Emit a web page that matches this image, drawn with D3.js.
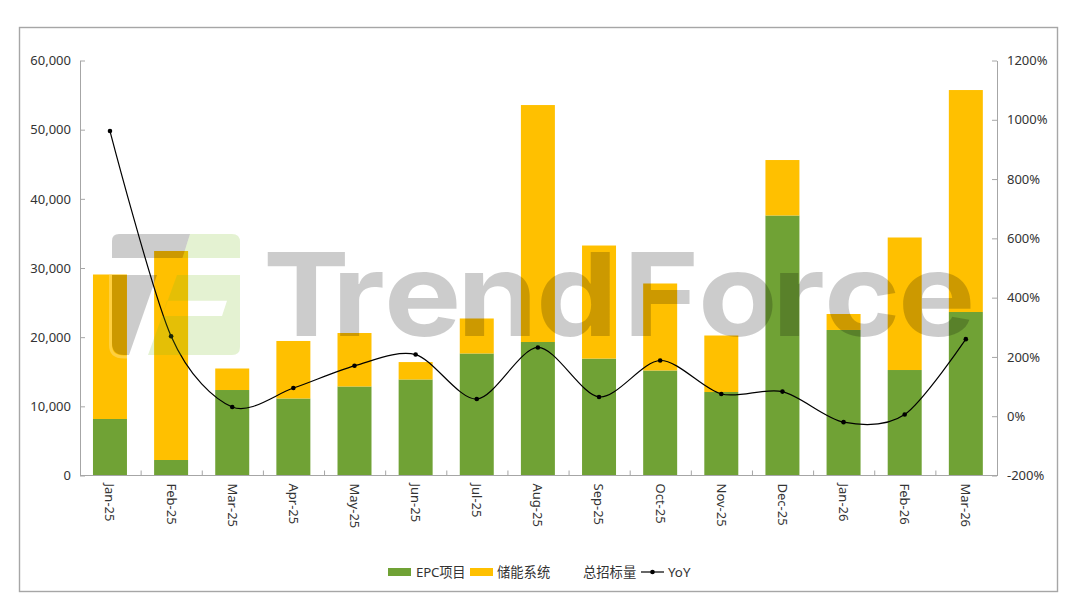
<!DOCTYPE html>
<html><head><meta charset="utf-8">
<script src="https://cdn.jsdelivr.net/npm/d3@7"></script>
<style>
html,body{margin:0;padding:0;background:#fff}
text{font-family:"Noto Sans","Noto Sans CJK SC",sans-serif;fill:#333;font-size:13px}
</style></head><body><svg id="c" width="1080" height="608"></svg>
<script>
const months=["Jan-25","Feb-25","Mar-25","Apr-25","May-25","Jun-25","Jul-25","Aug-25","Sep-25","Oct-25","Nov-25","Dec-25","Jan-26","Feb-26","Mar-26"];
const epc=[8170,2240,12360,11130,12870,13880,17640,19300,16900,15180,12070,37590,21040,15250,23640];
const storage=[20890,30220,3110,8320,7730,2520,5060,34260,16350,12580,8170,8020,2310,19160,32090];
const yoy=[962,270,31,95,170,208,58,232,65,188,75,83,-20,6,260];
const leftTicks=[0,10000,20000,30000,40000,50000,60000];
const rightTicks=[-200,0,200,400,600,800,1000,1200];

const svg=d3.select("#c");
const m={l:80,r:997,t:60.5,b:475.5};
svg.append("rect").attr("x",19.5).attr("y",27.5).attr("width",1038).attr("height",564).attr("fill","#fff").attr("stroke","#a6a6a6").attr("stroke-width",1.4);
const x=d3.scaleBand().domain(months).range([m.l-0.6,m.r-0.6]).paddingInner(0.444).paddingOuter(0.222);
const yL=d3.scaleLinear().domain([0,60000]).range([m.b,m.t]);
const yR=d3.scaleLinear().domain([-200,1200]).range([m.b,m.t]);
const C={epc:"#70a235",st:"#ffc000"};
const FS="13px", FF='"Noto Sans","Noto Sans CJK SC",sans-serif';

// bars
svg.append("g").selectAll("rect").data(months).join("rect").attr("x",d=>x(d)).attr("width",x.bandwidth())
 .attr("y",(d,i)=>yL(epc[i])).attr("height",(d,i)=>yL(0)-yL(epc[i])).attr("fill",C.epc);
svg.append("g").selectAll("rect").data(months).join("rect").attr("x",d=>x(d)).attr("width",x.bandwidth())
 .attr("y",(d,i)=>yL(epc[i]+storage[i])).attr("height",(d,i)=>yL(epc[i])-yL(epc[i]+storage[i])).attr("fill",C.st);

// axes
const ax="#a6a6a6";
function style(g){g.selectAll(".domain").attr("stroke",ax);g.selectAll("line").attr("stroke",ax);g.selectAll("text").attr("fill","#333").style("font-size",FS).style("font-family",FF);}
svg.append("g").attr("transform",`translate(${m.l},0)`).call(d3.axisLeft(yL).tickValues(leftTicks).tickFormat(d3.format(",")).tickSize(-5).tickSizeOuter(0).tickPadding(9)).call(style);
const gR=svg.append("g").attr("transform",`translate(${m.r},0)`).call(d3.axisRight(yR).tickValues(rightTicks).tickFormat(d=>d+"%").tickSize(-5).tickSizeOuter(0)).call(style);
gR.selectAll("text").attr("text-anchor","start").attr("x",10);
const step=x.step();
const gX=svg.append("g").attr("transform",`translate(0,${m.b})`);
gX.append("line").attr("x1",m.l).attr("x2",m.r).attr("stroke",ax);
gX.selectAll("line.t").data(d3.range(1,15)).join("line").attr("class","t")
 .attr("x1",i=>m.l+i*step).attr("x2",i=>m.l+i*step).attr("y1",0).attr("y2",-5).attr("stroke",ax);
gX.selectAll("text").data(months).join("text").text(d=>d)
 .attr("transform",d=>`translate(${x(d)+x.bandwidth()/2},8) rotate(90)`).attr("dy","0.35em");

// line
const line=d3.line().x((d,i)=>x(months[i])+x.bandwidth()/2).y(d=>yR(d)).curve(d3.curveCardinal.tension(0.12));
svg.append("path").attr("d",line(yoy)).attr("fill","none").attr("stroke","#000").attr("stroke-width",1.2);
svg.append("g").selectAll("circle").data(yoy).join("circle").attr("cx",(d,i)=>x(months[i])+x.bandwidth()/2).attr("cy",d=>yR(d)).attr("r",2.3).attr("fill","#000");

// watermark
const wm=svg.append("g");
const grey="rgba(0,0,0,0.2)", green="rgba(120,190,30,0.2)";
wm.append("path").attr("fill",grey).attr("d","M112,258V241Q112,234 119,234H190L182.500,258Z");
wm.append("path").attr("fill",grey).attr("d","M112,275H157L129,355H124Q112,355 112,343Z");
wm.append("path").attr("fill",green).attr("d","M190,234H232Q240,234 240,242V258H182.500Z");
wm.append("path").attr("fill",green).attr("fill-rule","evenodd").attr("d","M177,275H240V347Q240,355 232,355H148ZM167,300.700H227L222,316H162Z");
wm.append("path").attr("fill","none").attr("stroke","rgba(255,255,255,0.25)").attr("stroke-width",3).attr("d","M110.500,275V345Q110.500,357 124,357H130");
const wmScale=1.12, wmX=[263,332,384,457,536,623,698,772,824,898];
wm.append("text").attr("transform",`scale(${wmScale},1)`).attr("x",wmX.map(v=>v/wmScale).join(" ")).attr("y",336.5)
 .style("font-family","Inter, Lato, sans-serif").style("font-weight","700").style("font-size","116px").style("fill","rgba(0,0,0,0.2)").text("TrendForce");

// legend
const lg=svg.append("g");
const lt=(x,t,len)=>{const e=lg.append("text").attr("x",x).attr("y",577).style("font-size","13.3px").text(t);if(len)e.attr("textLength",len);};
lg.append("rect").attr("x",388).attr("y",568).attr("width",23).attr("height",8).attr("fill",C.epc);
lt(416,"EPC项目",49.5);
lg.append("rect").attr("x",470).attr("y",568).attr("width",23).attr("height",8).attr("fill",C.st);
lt(497,"储能系统");
lt(583,"总招标量");
lg.append("line").attr("x1",641).attr("x2",664).attr("y1",572).attr("y2",572).attr("stroke","#000").attr("stroke-width",1.2);
lg.append("circle").attr("cx",652.5).attr("cy",572).attr("r",2.3).attr("fill","#000");
lt(668,"YoY");
</script></body></html>
